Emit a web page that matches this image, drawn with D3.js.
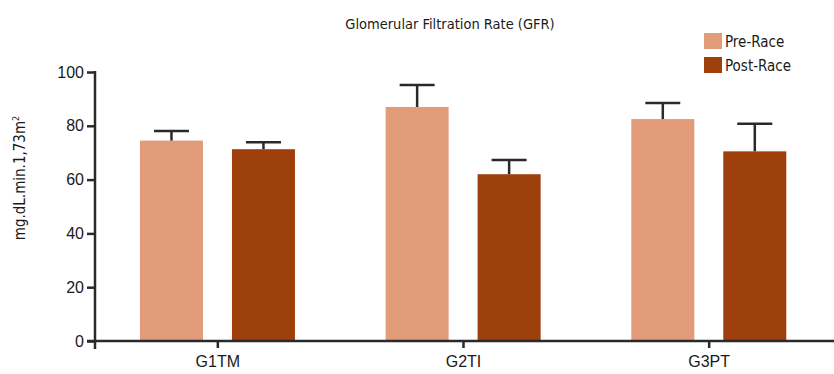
<!DOCTYPE html>
<html>
<head>
<meta charset="utf-8">
<script src="https://cdn.jsdelivr.net/npm/d3@7/dist/d3.min.js"></script>
<style>
  body { margin: 0; background: #fff; }
  svg { display: block; font-family: "Liberation Sans Narrow", "DejaVu Sans Condensed", "Roboto Condensed", sans-serif; }
</style>
</head>
<body>
<svg id="chart" width="834" height="374"></svg>
<script>
const categories = ["G1TM", "G2TI", "G3PT"];
const seriesNames = ["Pre-Race", "Post-Race"];
const preRace = [74.5, 87, 82.5];
const postRace = [71.3, 62, 70.5];
const preRaceErr = [3.6, 8.2, 6.0];
const postRaceErr = [2.6, 5.3, 10.3];
const yTicks = [0, 20, 40, 60, 80, 100];
const colors = ["#E29C79", "#9E400C"];

const svg = d3.select("#chart");
const axisColor = "#2a2a2a";

const x = d3.scaleBand().domain(categories).range([95, 832]).padding(0);
const xs = d3.scaleBand().domain(seriesNames)
  .range([x.bandwidth() * 0.183, x.bandwidth() * 0.814]).paddingInner(0.315).paddingOuter(0);
const y = d3.scaleLinear().domain([0, 100]).range([341, 72]);

const data = [];
categories.forEach((c, i) => {
  data.push({ cat: c, s: seriesNames[0], v: preRace[i], e: preRaceErr[i], color: colors[0] });
  data.push({ cat: c, s: seriesNames[1], v: postRace[i], e: postRaceErr[i], color: colors[1] });
});

// bars
svg.append("g").selectAll("rect").data(data).join("rect")
  .attr("x", d => x(d.cat) + xs(d.s))
  .attr("y", d => y(d.v))
  .attr("width", xs.bandwidth())
  .attr("height", d => y(0) - y(d.v))
  .attr("fill", d => d.color);

// error bars
const eg = svg.append("g").attr("stroke", axisColor).attr("stroke-width", 2.5);
data.forEach(d => {
  const cx = x(d.cat) + xs(d.s) + xs.bandwidth() / 2;
  eg.append("line").attr("x1", cx).attr("x2", cx).attr("y1", y(d.v)).attr("y2", y(d.v + d.e));
  eg.append("line").attr("x1", cx - 17.5).attr("x2", cx + 17.5).attr("y1", y(d.v + d.e)).attr("y2", y(d.v + d.e));
});

// y axis
const yAxis = svg.append("g").attr("transform", "translate(95,0)")
  .call(d3.axisLeft(y).tickValues(yTicks).tickSize(8).tickPadding(3));
yAxis.select(".domain").remove();
yAxis.selectAll(".tick line").attr("stroke", axisColor).attr("stroke-width", 2.5);
yAxis.selectAll(".tick text").attr("fill", "#1a1a1a").style("font-size", "16px")
  .style("font-family", "inherit");
svg.append("line").attr("x1", 95).attr("x2", 95).attr("y1", y(100) - 1).attr("y2", 349)
  .attr("stroke", axisColor).attr("stroke-width", 2.5);

// x axis
const xAxis = svg.append("g").attr("transform", "translate(0,341)")
  .call(d3.axisBottom(x).tickSize(7).tickPadding(8));
xAxis.select(".domain").remove();
xAxis.selectAll(".tick line").attr("stroke", axisColor).attr("stroke-width", 2.5);
xAxis.selectAll(".tick text").attr("fill", "#1a1a1a").style("font-size", "16px")
  .style("font-family", "inherit");
svg.append("line").attr("x1", 87).attr("x2", 834).attr("y1", 341).attr("y2", 341)
  .attr("stroke", axisColor).attr("stroke-width", 2.5);

// title
svg.append("text").attr("x", 450).attr("y", 29).attr("text-anchor", "middle")
  .style("font-size", "14.5px").attr("fill", "#1a1a1a")
  .text("Glomerular Filtration Rate (GFR)");

// y label
const yl = svg.append("text").attr("transform", "translate(25,178) rotate(-90)")
  .attr("text-anchor", "middle").style("font-size", "15px").attr("fill", "#1a1a1a");
yl.append("tspan").text("mg.dL.min.1,73m");
yl.append("tspan").attr("dy", -6).style("font-size", "9px").text("2");

// legend
const lg = svg.append("g");
seriesNames.forEach((s, i) => {
  lg.append("rect").attr("x", 704).attr("y", 33 + i * 24).attr("width", 18).attr("height", 16)
    .attr("fill", colors[i]);
  lg.append("text").attr("x", 725).attr("y", 47 + i * 24).style("font-size", "15px")
    .attr("fill", "#1a1a1a").text(s);
});
</script>
</body>
</html>
